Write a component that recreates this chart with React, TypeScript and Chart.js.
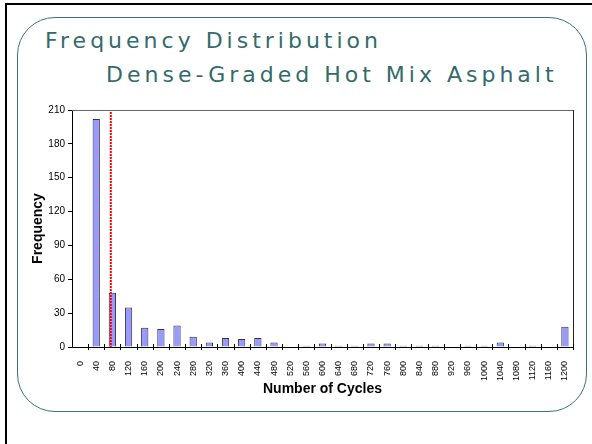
import React, { useEffect, useRef } from "react";
import { Chart, registerables } from "chart.js";

Chart.register(...registerables);

const categories: string[] = [
  "0", "40", "80", "120", "160", "200", "240", "280", "320", "360", "400",
  "440", "480", "520", "560", "600", "640", "680", "720", "760", "800",
  "840", "880", "920", "960", "1000", "1040", "1080", "1120", "1160", "1200",
];

const frequencies: number[] = [
  0, 202, 48, 35, 17, 16, 19, 9, 4, 8, 7,
  8, 4, 0, 1, 3, 1, 1, 3, 3, 1,
  1, 1, 0, 1, 1, 4, 0, 1, 0, 18,
];

const yTickValues: number[] = [0, 30, 60, 90, 120, 150, 180, 210];
const binWidth = 40;
const meanCycles = 76;

const titleLine1 = "Frequency Distribution";
const titleLine2 = "Dense-Graded Hot Mix Asphalt";
const yTitle = "Frequency";
const xTitle = "Number of Cycles";

const FONT = "'Liberation Sans', Arial, sans-serif";
const TEAL = "#336b6b";

const decorPlugin = {
  id: "decor",
  beforeDatasetsDraw(chart: any) {
    const { ctx, chartArea } = chart;
    const { left, right, top, bottom } = chartArea;
    ctx.save();
    ctx.strokeStyle = "#666666";
    ctx.lineWidth = 1;
    ctx.beginPath();
    ctx.moveTo(left, top + 0.5);
    ctx.lineTo(right + 0.5, top + 0.5);
    ctx.stroke();
    ctx.strokeStyle = "#222222";
    ctx.beginPath();
    ctx.moveTo(right + 0.5, top);
    ctx.lineTo(right + 0.5, bottom);
    ctx.stroke();
    ctx.restore();
  },
  afterDatasetsDraw(chart: any) {
    const { ctx, chartArea } = chart;
    const { left, right, top, bottom } = chartArea;
    const n = categories.length;
    const step = (right - left) / n;
    ctx.save();
    ctx.strokeStyle = "#000000";
    ctx.lineWidth = 1;
    ctx.beginPath();
    for (let i = 1; i <= n; i++) {
      const x = Math.round(left + i * step) + 0.5;
      ctx.moveTo(x, bottom - 3);
      ctx.lineTo(x, bottom + 3);
    }
    ctx.stroke();
    // mean line
    const xs = chart.scales.x;
    const pos = meanCycles / binWidth;
    const i0 = Math.floor(pos);
    const f = pos - i0;
    const p0 = xs.getPixelForValue(i0);
    const p1 = xs.getPixelForValue(i0 + 1);
    const mx = p0 + f * (p1 - p0);
    ctx.strokeStyle = "#ff0000";
    ctx.lineWidth = 2;
    ctx.setLineDash([2, 1]);
    ctx.beginPath();
    ctx.moveTo(mx, top + 2);
    ctx.lineTo(mx, bottom);
    ctx.stroke();
    ctx.restore();
  },
};

export default function App() {
  const canvasRef = useRef<HTMLCanvasElement | null>(null);

  useEffect(() => {
    if (!canvasRef.current) return;
    const chart = new Chart(canvasRef.current, {
      type: "bar",
      data: {
        labels: categories,
        datasets: [
          {
            data: frequencies,
            backgroundColor: "#9999ff",
            borderColor: "#333333",
            borderWidth: 1,
            categoryPercentage: 1,
            barPercentage: 0.45,
          },
        ],
      },
      options: {
        animation: false,
        responsive: false,
        maintainAspectRatio: false,
        layout: { padding: { left: 20, top: 110, right: 19, bottom: 40 } },
        plugins: {
          legend: { display: false },
          tooltip: { enabled: false },
        },
        scales: {
          x: {
            grid: { display: false },
            border: { display: true, color: "#000000", width: 1 },
            ticks: {
              color: "#000000",
              font: { family: FONT, size: 9 },
              minRotation: 90,
              maxRotation: 90,
              padding: 6,
              autoSkip: false,
            },
            title: {
              display: true,
              text: xTitle,
              color: "#000000",
              font: { family: FONT, size: 14, weight: "bold" },
              padding: { top: 0, bottom: 6 },
            },
            afterFit: (scale: any) => {
              scale.height = 57;
            },
          },
          y: {
            min: 0,
            max: 210,
            afterBuildTicks: (scale: any) => {
              scale.ticks = yTickValues.map((v) => ({ value: v }));
            },
            grid: {
              display: true,
              drawOnChartArea: false,
              drawTicks: true,
              tickLength: 4,
              color: "#000000",
            },
            border: { display: true, color: "#000000", width: 1 },
            ticks: {
              color: "#000000",
              font: { family: FONT, size: 10 },
              padding: 3,
            },
            title: {
              display: true,
              text: yTitle,
              color: "#000000",
              font: { family: FONT, size: 14, weight: "bold" },
              padding: { top: 10, bottom: 0 },
            },
            afterFit: (scale: any) => {
              scale.width = 52;
            },
          },
        },
      },
      plugins: [decorPlugin],
    });
    return () => chart.destroy();
  }, []);

  const titleStyle: React.CSSProperties = {
    position: "absolute",
    fontFamily: "'DejaVu Sans', Verdana, sans-serif",
    fontSize: "22px",
    lineHeight: "22px",
    letterSpacing: "4px",
    color: TEAL,
    whiteSpace: "nowrap",
  };

  return (
    <div
      style={{
        position: "absolute",
        left: 0,
        top: 0,
        width: 592,
        height: 444,
        overflow: "hidden",
        background: "#ffffff",
      }}
    >
      <div
        style={{
          position: "absolute",
          left: 5,
          top: 3,
          width: 600,
          height: 460,
          borderTop: "2.5px solid #000",
          borderLeft: "2.5px solid #000",
          boxSizing: "border-box",
        }}
      />
      <div
        style={{
          position: "absolute",
          left: 17,
          top: 17,
          width: 570,
          height: 395,
          border: "1.6px solid #3c7373",
          borderRadius: 38,
          boxSizing: "border-box",
        }}
      />
      <div style={{ ...titleStyle, left: 45, top: 29.7 }}>{titleLine1}</div>
      <div style={{ ...titleStyle, left: 106, top: 64.1 }}>{titleLine2}</div>
      <canvas
        ref={canvasRef}
        width={592}
        height={444}
        style={{ position: "absolute", left: 0, top: 0, width: 592, height: 444 }}
      />
    </div>
  );
}
